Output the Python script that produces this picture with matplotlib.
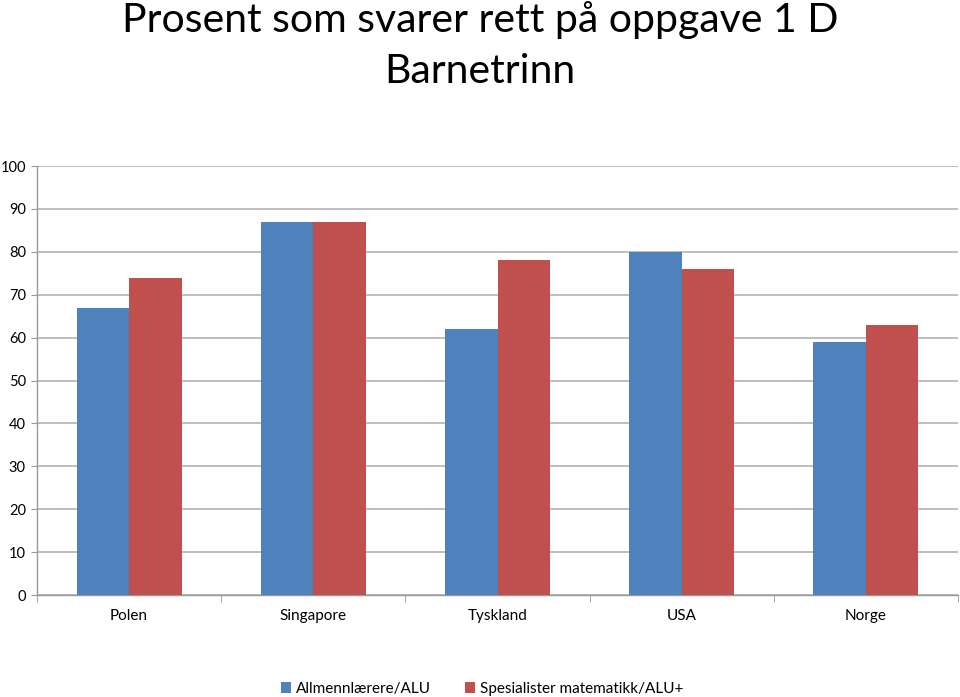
import matplotlib
matplotlib.use("Agg")
import matplotlib.pyplot as plt
import numpy as np

categories = ["Polen", "Singapore", "Tyskland", "USA", "Norge"]
series_names = ["Allmennlærere/ALU", "Spesialister matematikk/ALU+"]
alu = [67, 87, 62, 80, 59]
alu_plus = [74, 87, 78, 76, 63]
yticks = list(range(0, 101, 10))

plt.rcParams['font.family'] = ['Lato', 'DejaVu Sans']

fig = plt.figure(figsize=(9.6, 6.97), dpi=100)
ax = fig.add_axes([0.0385, 0.1463, 0.9595, 0.6155])

x = np.arange(len(categories))
w = 0.285
ax.bar(x - w/2, alu, width=w, color="#4F81BD", label=series_names[0], zorder=3)
ax.bar(x + w/2, alu_plus, width=w, color="#C0504D", label=series_names[1], zorder=3)

ax.set_xlim(-0.5, len(categories) - 0.5)
ax.set_ylim(0, 100)
ax.set_yticks(yticks)
ax.set_yticklabels([str(t) for t in yticks], fontsize=10.5)
ax.yaxis.grid(True, color="#b3b3b3", linewidth=1.2, zorder=0)
ax.set_axisbelow(True)

ax.set_xticks(x)
ax.set_xticklabels(categories, fontsize=11)
ax.tick_params(axis='x', length=0, pad=10)
ax.set_xticks(np.arange(-0.5, len(categories) + 0.5, 1), minor=True)
ax.tick_params(axis='x', which='minor', length=5, color="#999999", direction='out')
ax.tick_params(axis='y', length=4, color="#999999", pad=4)

for s in ["top", "right"]:
    ax.spines[s].set_visible(False)
for s in ["left", "bottom"]:
    ax.spines[s].set_color("#999999")
    ax.spines[s].set_linewidth(1.0)

fig.text(0.5, 0.972, "Prosent som svarer rett på oppgave 1 D", ha="center", va="center", fontsize=29.5)
fig.text(0.5, 0.897, "Barnetrinn", ha="center", va="center", fontsize=29.5)

fig.legend(loc="center", bbox_to_anchor=(0.502, 0.012), ncol=2, frameon=False,
           fontsize=11, handlelength=0.7, handleheight=0.7, handletextpad=0.3,
           columnspacing=2.2)

fig.savefig("out.png", dpi=100)
